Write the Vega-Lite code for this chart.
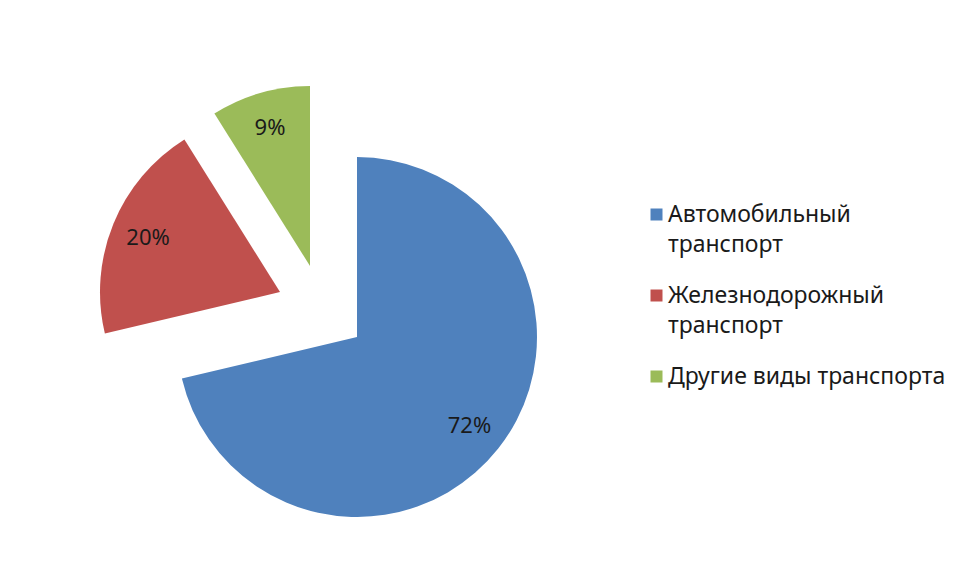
{
  "$schema": "https://vega.github.io/schema/vega-lite/v6.json",
  "width": 624,
  "height": 360,
  "padding": {"left": 10, "top": 86, "right": 0, "bottom": 0},
  "background": "white",
  "config": {
    "view": {"stroke": null},
    "style": {"guide-label": {"lineHeight": 30}}
  },
  "data": {
    "values": [
      {"category": "Автомобильный транспорт", "value": 72, "label": "72%"},
      {"category": "Железнодорожный транспорт", "value": 20, "label": "20%"},
      {"category": "Другие виды транспорта", "value": 9, "label": "9%"}
    ]
  },
  "transform": [
    {"stack": "value", "groupby": [], "sort": [{"field": "value", "order": "descending"}], "as": ["v0", "v1"]}
  ],
  "encoding": {
    "color": {
      "field": "category",
      "type": "nominal",
      "sort": ["Автомобильный транспорт", "Железнодорожный транспорт", "Другие виды транспорта"],
      "scale": {
        "domain": ["Автомобильный транспорт", "Железнодорожный транспорт", "Другие виды транспорта"],
        "range": ["#4F81BD", "#C0504D", "#9BBB59"]
      },
      "legend": {
        "title": null,
        "orient": "none",
        "legendX": 635,
        "legendY": 74,
        "padding": 0,
        "symbolType": "square",
        "symbolSize": 144,
        "symbolStrokeWidth": 0,
        "labelFont": "Noto Sans",
        "labelFontSize": 23,
        "labelColor": "#1a1a1a",
        "labelOffset": 0,
        "labelLimit": 400,
        "rowPadding": 27,
        "labelExpr": "datum.label == 'Автомобильный транспорт' ? ['Автомобильный', 'транспорт'] : datum.label == 'Железнодорожный транспорт' ? ['Железнодорожный', 'транспорт'] : datum.label"
      }
    }
  },
  "layer": [
    {
      "transform": [{"filter": "datum.category == 'Автомобильный транспорт'"}],
      "mark": {"type": "arc", "outerRadius": 180, "xOffset": 35, "yOffset": 28},
      "encoding": {
        "theta": {"field": "v0", "type": "quantitative", "scale": {"domain": [0, 101]}},
        "theta2": {"field": "v1"}
      }
    },
    {
      "transform": [{"filter": "datum.category == 'Железнодорожный транспорт'"}],
      "mark": {"type": "arc", "outerRadius": 180, "xOffset": -42, "yOffset": -17},
      "encoding": {
        "theta": {"field": "v0", "type": "quantitative", "scale": {"domain": [0, 101]}},
        "theta2": {"field": "v1"}
      }
    },
    {
      "transform": [{"filter": "datum.category == 'Другие виды транспорта'"}],
      "mark": {"type": "arc", "outerRadius": 180, "xOffset": -12, "yOffset": -43},
      "encoding": {
        "theta": {"field": "v0", "type": "quantitative", "scale": {"domain": [0, 101]}},
        "theta2": {"field": "v1"}
      }
    },
    {
      "mark": {"type": "text", "radius": 188, "font": "Noto Sans", "fontSize": 22},
      "encoding": {
        "theta": {"field": "value", "type": "quantitative", "stack": true, "scale": {"domain": [0, 101]}},
        "order": {"field": "value", "sort": "descending"},
        "text": {"field": "label"},
        "color": {"value": "#1a1a1a"}
      }
    }
  ]
}
